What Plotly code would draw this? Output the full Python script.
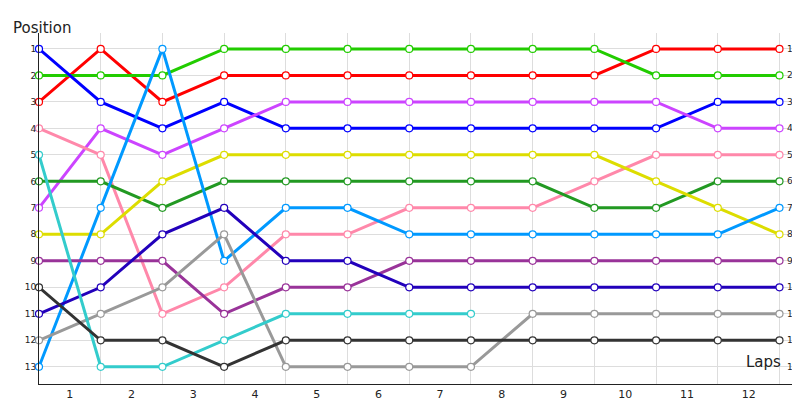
import plotly.graph_objects as go

laps = list(range(13))
lap_labels = [str(i) for i in range(1, 13)]
positions = list(range(1, 14))

drivers = ["red", "green", "blue", "purple", "pink", "dkgreen", "yellow",
           "lightblue", "dkpurple", "navy", "gray", "cyan", "black"]
colors = {
    "red": "#ff0000", "green": "#22cc00", "blue": "#0000ff", "purple": "#cc44ff",
    "pink": "#ff88aa", "dkgreen": "#229922", "yellow": "#dddd00",
    "lightblue": "#0099ff", "dkpurple": "#993399", "navy": "#2200bb",
    "gray": "#999999", "cyan": "#33cccc", "black": "#333333",
}
red = [3, 1, 3, 2, 2, 2, 2, 2, 2, 2, 1, 1, 1]
green = [2, 2, 2, 1, 1, 1, 1, 1, 1, 1, 2, 2, 2]
blue = [1, 3, 4, 3, 4, 4, 4, 4, 4, 4, 4, 3, 3]
purple = [7, 4, 5, 4, 3, 3, 3, 3, 3, 3, 3, 4, 4]
pink = [4, 5, 11, 10, 8, 8, 7, 7, 7, 6, 5, 5, 5]
dkgreen = [6, 6, 7, 6, 6, 6, 6, 6, 6, 7, 7, 6, 6]
yellow = [8, 8, 6, 5, 5, 5, 5, 5, 5, 5, 6, 7, 8]
lightblue = [13, 7, 1, 9, 7, 7, 8, 8, 8, 8, 8, 8, 7]
dkpurple = [9, 9, 9, 11, 10, 10, 9, 9, 9, 9, 9, 9, 9]
navy = [11, 10, 8, 7, 9, 9, 10, 10, 10, 10, 10, 10, 10]
gray = [12, 11, 10, 8, 13, 13, 13, 13, 11, 11, 11, 11, 11]
cyan = [5, 13, 13, 12, 11, 11, 11, 11]
black = [10, 12, 12, 13, 12, 12, 12, 12, 12, 12, 12, 12, 12]

series = {"red": red, "green": green, "blue": blue, "purple": purple, "pink": pink,
          "dkgreen": dkgreen, "yellow": yellow, "lightblue": lightblue,
          "dkpurple": dkpurple, "navy": navy, "gray": gray, "cyan": cyan, "black": black}

fig = go.Figure()
for name in drivers:
    ys = series[name]
    fig.add_trace(go.Scatter(
        x=laps[:len(ys)], y=ys, mode="lines+markers", name=name,
        line=dict(color=colors[name], width=3),
        marker=dict(size=7, color="white", line=dict(color=colors[name], width=1.2)),
        showlegend=False, cliponaxis=False))

# right-hand position labels
for p in positions:
    fig.add_annotation(x=12, y=p, text=str(p), showarrow=False, xshift=6,
                       font=dict(size=9, color="#222"), xanchor="left")

fig.add_annotation(x=0, y=1, xref="paper", yref="paper", text="Position",
                   showarrow=False, xanchor="left", yanchor="bottom", xshift=-28, yshift=-6,
                   font=dict(size=15, color="#222"))
fig.add_annotation(x=12, y=13.25, text="Laps", showarrow=False, xanchor="right",
                   yanchor="bottom", xshift=4, font=dict(size=15, color="#222"))

fig.update_xaxes(range=[0, 12.3], tickvals=[i + 0.5 for i in range(12)], ticktext=lap_labels,
                 showgrid=False, zeroline=False, showline=True, linecolor="#222",
                 ticks="", tickfont=dict(size=11, color="#222"), automargin=False,
                 minor=dict(tickvals=laps, showgrid=True, gridcolor="#dddddd", ticks=""))
fig.update_yaxes(range=[13.65, 0.4], tickvals=positions, showgrid=True, gridcolor="#dddddd",
                 zeroline=False, showline=True, linecolor="#222", ticks="",
                 tickfont=dict(size=9, color="#222"), automargin=False)

fig.update_layout(width=800, height=400, plot_bgcolor="white", paper_bgcolor="white",
                  margin=dict(l=31, r=10, t=25, b=24),
                  font=dict(family="DejaVu Sans"))
fig.write_html("out.html")
